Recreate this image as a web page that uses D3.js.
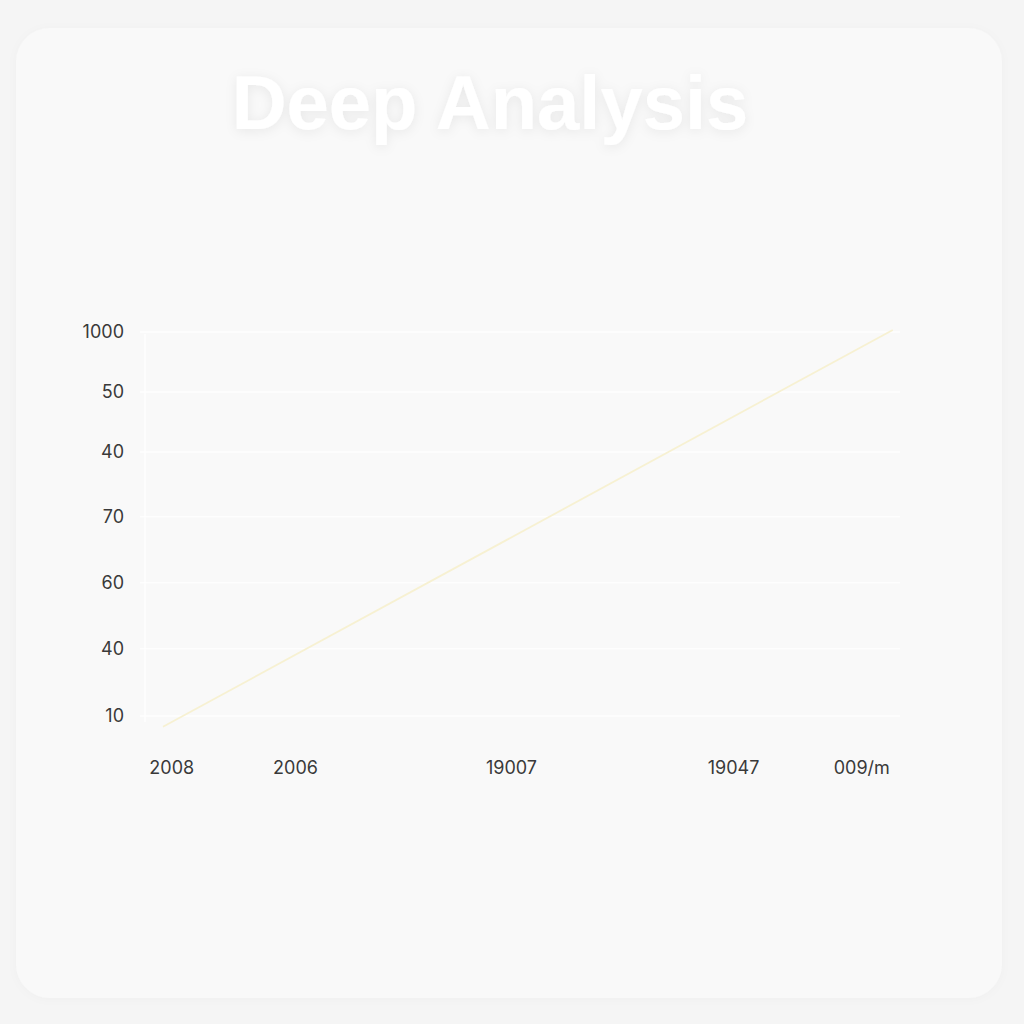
<!DOCTYPE html>
<html>
<head>
<meta charset="utf-8">
<script src="https://cdn.jsdelivr.net/npm/d3@7"></script>
<style>
  html, body { margin: 0; padding: 0; background: #f5f5f5; }
  svg { display: block; }
</style>
</head>
<body>
<div id="chart"></div>
<script>
// Chart data
const titleText = "Deep Analysis";

// y axis: tick values (in chart units 0-100) and the labels printed beside them
const yTickValues = [99.5, 84.5, 69.5, 53.3, 36.8, 20.3, 3.5];
const yTickLabels = ["1000", "50", "40", "70", "60", "40", "10"];

// x axis: tick values (in chart units 0-100) and their labels
const xTickValues = [3.5, 20, 48.8, 78.4, 95.5];
const xTickLabels = ["2008", "2006", "19007", "19047", "009/m"];

// the single series: a straight rising line
const seriesX = [2.4, 99.7];
const seriesY = [0.8, 100];

class LineChart {
    constructor({ parentElement }) {
        this.parentElement = parentElement;
        this.initVis();
    }

    initVis() {
        const vis = this;

        vis.width = 1024;
        vis.height = 1024;

        vis.svg = d3.select(vis.parentElement)
            .append("svg")
            .attr("width", vis.width)
            .attr("height", vis.height);

        const defs = vis.svg.append("defs");

        // soft glow behind the title
        const glow = defs.append("filter")
            .attr("id", "titleGlow")
            .attr("x", "-20%").attr("y", "-40%")
            .attr("width", "140%").attr("height", "180%");
        glow.append("feDropShadow")
            .attr("dx", 0).attr("dy", 2)
            .attr("stdDeviation", 6)
            .attr("flood-color", "#000")
            .attr("flood-opacity", 0.07);

        const cardShadow = defs.append("filter")
            .attr("id", "cardShadow")
            .attr("x", "-5%").attr("y", "-5%")
            .attr("width", "110%").attr("height", "110%");
        cardShadow.append("feDropShadow")
            .attr("dx", 0).attr("dy", 1)
            .attr("stdDeviation", 5)
            .attr("flood-color", "#000")
            .attr("flood-opacity", 0.025);

        // card
        vis.svg.append("rect")
            .attr("x", 16).attr("y", 28)
            .attr("width", 986).attr("height", 970)
            .attr("rx", 34)
            .attr("fill", "#f9f9f9")
            .attr("filter", "url(#cardShadow)");

        // title
        vis.svg.append("text")
            .attr("x", 490)
            .attr("y", 129)
            .attr("text-anchor", "middle")
            .style("font-family", "'Liberation Sans', Arial, Helvetica, sans-serif")
            .style("font-size", "76px")
            .style("font-weight", "700")
            .attr("fill", "#ffffff")
            .attr("filter", "url(#titleGlow)")
            .text(titleText);

        // scales
        vis.xScale = d3.scaleLinear().domain([0, 100]).range([145, 895]);
        vis.yScale = d3.scaleLinear().domain([0, 100]).range([730, 330]);

        vis.updateVis();
    }

    updateVis() {
        const vis = this;
        const font = "Inter, 'Liberation Sans', Arial, sans-serif";

        // gridlines
        vis.svg.append("g")
            .selectAll("line")
            .data(yTickValues)
            .join("line")
            .attr("x1", 140)
            .attr("x2", 900)
            .attr("y1", d => vis.yScale(d))
            .attr("y2", d => vis.yScale(d))
            .attr("stroke", "#ffffff")
            .attr("stroke-opacity", 0.8)
            .attr("stroke-width", 1.5);

        // faint vertical axis line
        vis.svg.append("line")
            .attr("x1", vis.xScale(0)).attr("x2", vis.xScale(0))
            .attr("y1", vis.yScale(99)).attr("y2", vis.yScale(2))
            .attr("stroke", "#ffffff")
            .attr("stroke-opacity", 0.8)
            .attr("stroke-width", 1.5);

        // y axis labels
        const yAxis = d3.axisLeft(vis.yScale)
            .tickValues(yTickValues)
            .tickFormat((d, i) => yTickLabels[i])
            .tickSize(0)
            .tickPadding(0);

        vis.svg.append("g")
            .attr("transform", "translate(124,0)")
            .call(yAxis)
            .call(g => g.select(".domain").remove())
            .selectAll("text")
            .style("font-family", font)
            .style("font-size", "18px")
            .style("font-weight", "400")
            .attr("fill", "#3a3a3a");

        // x axis labels
        const xAxis = d3.axisBottom(vis.xScale)
            .tickValues(xTickValues)
            .tickFormat((d, i) => xTickLabels[i])
            .tickSize(0)
            .tickPadding(0);

        vis.svg.append("g")
            .attr("transform", "translate(0,761)")
            .call(xAxis)
            .call(g => g.select(".domain").remove())
            .selectAll("text")
            .style("font-family", font)
            .style("font-size", "18px")
            .style("font-weight", "400")
            .attr("fill", "#3a3a3a");

        // the line
        const points = seriesX.map((x, i) => ({ x: x, y: seriesY[i] }));
        const lineGenerator = d3.line()
            .x(d => vis.xScale(d.x))
            .y(d => vis.yScale(d.y));

        vis.svg.append("path")
            .datum(points)
            .attr("fill", "none")
            .attr("stroke", "#f7f1d2")
            .attr("stroke-width", 1.8)
            .attr("d", lineGenerator);
    }
}

document.addEventListener("DOMContentLoaded", () => {
    new LineChart({ parentElement: "#chart" });
});
</script>
</body>
</html>
